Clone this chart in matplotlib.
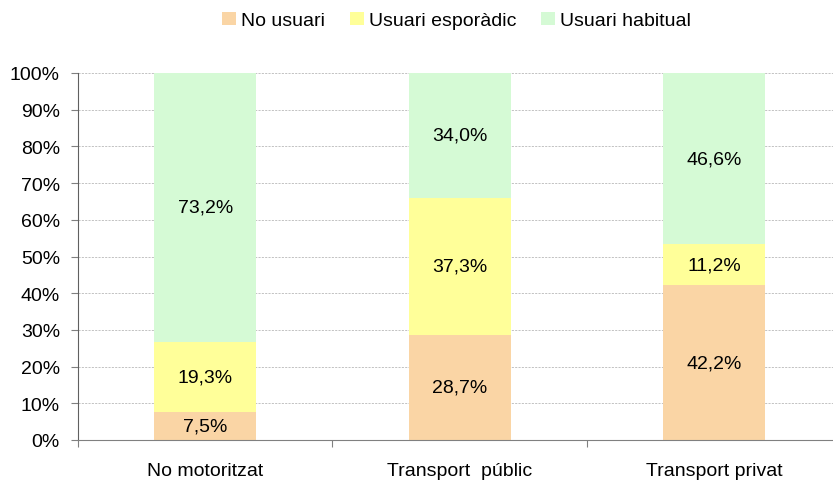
import numpy as np
import matplotlib.pyplot as plt
from matplotlib.ticker import FuncFormatter

plt.rcParams['font.family'] = ['Liberation Sans', 'DejaVu Sans']

categories = ['No motoritzat', 'Transport  públic', 'Transport privat']
series_names = ['No usuari', 'Usuari esporàdic', 'Usuari habitual']
no_usuari = [7.5, 28.7, 42.2]
esporadic = [19.3, 37.3, 11.2]
habitual = [73.2, 34.0, 46.6]
colors = ['#FAD5A5', '#FFFF99', '#D5FAD5']

fig = plt.figure(figsize=(8.33, 4.85), dpi=100)
ax = fig.add_axes([78 / 833, 44 / 485, 763.5 / 833, 367 / 485])

x = np.arange(len(categories))
bottom = np.zeros(len(categories))
for name, vals, c in zip(series_names, [no_usuari, esporadic, habitual], colors):
    vals = np.array(vals)
    ax.bar(x, vals, width=0.4, bottom=bottom, color=c, label=name, zorder=2)
    for xi, b, v in zip(x, bottom, vals):
        ax.text(xi, b + v / 2, '{:.1f}%'.format(v).replace('.', ','),
                ha='center', va='center', fontsize=14, zorder=3)
    bottom += vals

ax.set_xlim(-0.5, 2.5)
ax.set_ylim(0, 100)
ax.set_yticks(np.arange(0, 101, 10))
ax.yaxis.set_major_formatter(FuncFormatter(lambda v, p: '{:d}%'.format(int(v))))
ax.yaxis.grid(True, linestyle=(0, (2.5, 1.5)), color='#b8b8b8', linewidth=0.6, zorder=0)
ax.set_axisbelow(True)

ax.set_xticks([-0.5, 0.5, 1.5, 2.5])
ax.set_xticklabels([])
ax.set_xticks(x, minor=True)
ax.set_xticklabels(categories, minor=True)
ax.tick_params(axis='x', which='minor', length=0, pad=16, labelsize=14)
ax.tick_params(axis='x', which='major', length=5, color='#808080')
ax.tick_params(axis='y', length=5, color='#808080', labelsize=14, pad=8)

for s in ['top', 'right']:
    ax.spines[s].set_visible(False)
ax.spines['left'].set_color('#606060')
ax.spines['bottom'].set_color('#808080')

fig.legend(loc='upper center', bbox_to_anchor=(0.548, 1.01), ncol=3, frameon=False,
           fontsize=14, handlelength=0.7, handleheight=0.7, handletextpad=0.25,
           columnspacing=1.3)

fig.savefig('out.png', dpi=100)
